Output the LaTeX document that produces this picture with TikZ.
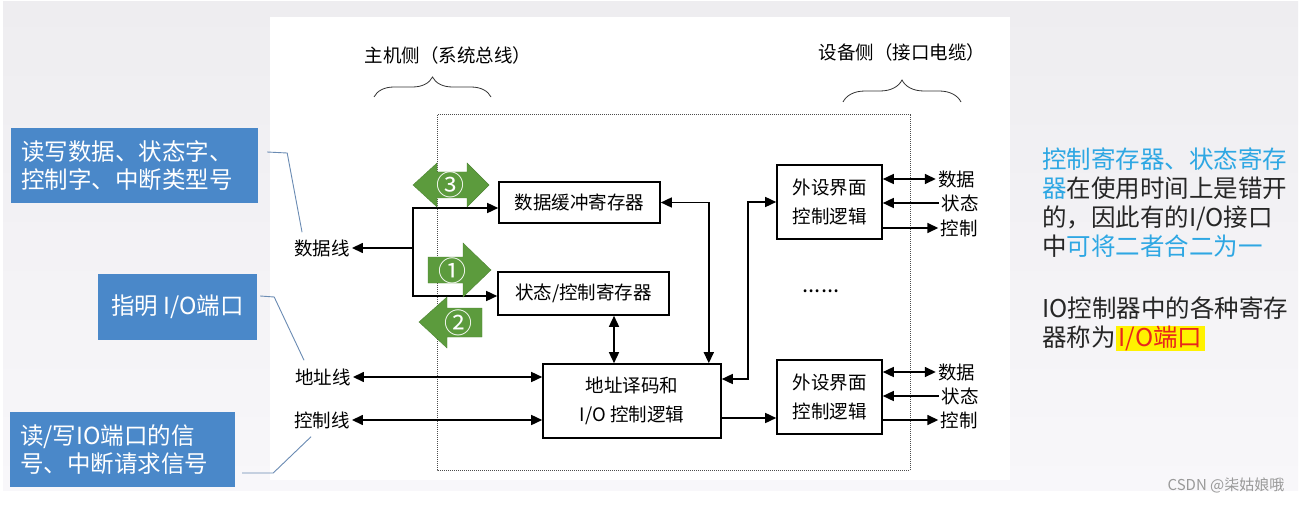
\documentclass[tikz,border=0pt]{standalone}
\usepackage{fontspec}
\setmainfont{Noto Sans CJK SC}
\usetikzlibrary{arrows.meta,decorations.pathreplacing}

\definecolor{slidetop}{HTML}{EEEDF0}
\definecolor{slidebot}{HTML}{F8F7FA}
\definecolor{noteblue}{HTML}{4A88C9}
\definecolor{linkblue}{HTML}{6A8BB3}
\definecolor{flowgreen}{HTML}{5C9B3D}
\definecolor{tipblue}{HTML}{2EA7E3}
\definecolor{markred}{HTML}{E8261C}
\definecolor{markyellow}{HTML}{FFF200}

\tikzstyle{reg} = [draw, line width=1.6pt, inner sep=0pt, align=center, font=\fontsize{18.5}{28.5}\selectfont]
\tikzstyle{sig} = [inner sep=2pt, font=\fontsize{18.5}{20}\selectfont]
\tikzstyle{note} = [fill=noteblue, text=white, inner sep=0pt, align=left, font=\fontsize{23.5}{27.5}\selectfont]
\tikzstyle{link} = [draw=linkblue, line width=0.9pt]
\tikzstyle{bus} = [line width=1.5pt, >={Triangle[length=11pt,width=10pt]}]
\tikzstyle{flow} = [fill=flowgreen, draw=flowgreen!85!black, line width=0.4pt]
\tikzstyle{num} = [text=white, inner sep=0pt, font=\fontsize{28}{28}\selectfont]

\begin{document}
\begin{tikzpicture}[x=1pt, y=-1pt]
\useasboundingbox (0,0) rectangle (1311,505);
\fill[white] (0,0) rectangle (1311,505);
\shade[top color=slidetop, bottom color=slidebot] (3,2) rectangle (1298,490);
\fill[white] (270,17) rectangle (1010,480);

% interface frame and the two sides
\draw[densely dotted, line width=1pt, black!70] (437,115) rectangle (910,470);
\draw[decorate, decoration={brace, amplitude=20pt}, line width=0.8pt, black!80] (374,97) -- (491,97);
\draw[decorate, decoration={brace, amplitude=22pt}, line width=0.8pt, black!80] (843,102) -- (961,102);
\node[sig] (host) at (448,55) {主机侧（系统总线）};
\node[sig] (device) at (902,52) {设备侧（接口电缆）};

\node[reg, minimum width=161pt, minimum height=41pt] (buf) at (579.5,202.5) {数据缓冲寄存器};
\node[reg, minimum width=171pt, minimum height=43pt] (stat) at (583.5,293.5) {状态/控制寄存器};
\node[reg, minimum width=178pt, minimum height=74pt] (dec) at (632,401) {地址译码和\\I/O 控制逻辑};
\node[reg, minimum width=105pt, minimum height=74pt] (dev1) at (829.5,202) {外设界面\\控制逻辑};
\node[reg, minimum width=105pt, minimum height=74pt] (dev2) at (829.5,397) {外设界面\\控制逻辑};
\node[sig, font=\fontsize{22}{22}\selectfont] (more) at (821,291) {......};

\node[sig] (datal) at (322,248) {数据线};
\node[sig] (addrl) at (323,377) {地址线};
\node[sig] (ctrll) at (322,420) {控制线};

\node[sig] (s1data) at (956.5,179) {数据};
\node[sig] (s1stat) at (960,203) {状态};
\node[sig] (s1ctrl) at (959,228) {控制};
\node[sig] (s2data) at (956.5,372) {数据};
\node[sig] (s2stat) at (960,396) {状态};
\node[sig] (s2ctrl) at (959,420) {控制};

\coordinate (split) at (413,248);
\draw[bus,->] (split) -- (datal.east);
\draw[bus,->] (split) |- ([yshift=-5.5pt]buf.west);
\draw[bus,->] (split) |- ([yshift=-2.5pt]stat.west);
\draw[bus,<->] (addrl.east) -- (addrl.east -| dec.west);
\draw[bus,<->] (ctrll.east) -- (ctrll.east -| dec.west);
\coordinate (sd) at ([xshift=30.5pt]stat.south);
\draw[bus,<->] (sd) -- (sd |- dec.north);
\draw[bus,<->] (buf.east) -| ([xshift=-13pt]dec.north east);
\coordinate (d1) at ([yshift=22pt]dec.east);
\draw[bus,<->] (d1) -| ([xshift=-28pt]dev1.west) -- (dev1.west);
\coordinate (d2) at ([yshift=-17pt]dec.east);
\draw[bus,->] (d2) -- (d2 -| dev2.west);

\draw[bus,<->] (dev1.east |- s1data) -- (s1data.west);
\draw[bus,<-] (dev1.east |- s1stat) -- (s1stat.west);
\draw[bus,->] (dev1.east |- s1ctrl) -- (s1ctrl.west);
\draw[bus,<->] (dev2.east |- s2data) -- (s2data.west);
\draw[bus,<-] (dev2.east |- s2stat) -- (s2stat.west);
\draw[bus,->] (dev2.east |- s2ctrl) -- (s2ctrl.west);

% steps 1 2 3
\filldraw[flow] (413,185) -- (437,163) -- (437,172) -- (467,172) -- (467,163) -- (489,185)
  -- (467,207) -- (467,198) -- (437,198) -- (437,207) -- cycle;
\filldraw[flow] (428,257) -- (463,257) -- (463,243) -- (491,270) -- (463,297) -- (463,283) -- (428,283) -- cycle;
\filldraw[flow] (419,322) -- (447,297) -- (447,308) -- (482,308) -- (482,337) -- (447,337) -- (447,348) -- cycle;
\node[num] (n3) at (450,185) {③};
\node[num] (n1) at (452,271) {①};
\node[num] (n2) at (458,323) {②};

% notes on the left
\node[note, minimum width=247pt, minimum height=75pt, text width=227pt] (note1) at (134.5,165.5)
  {读写数据、状态字、\\控制字、中断类型号};
\node[note, minimum width=159pt, minimum height=66pt, align=center] (note2) at (177.5,307) {指明 I/O端口};
\node[note, minimum width=225pt, minimum height=75pt, text width=205pt] (note3) at (122.5,449.5)
  {读/写IO端口的信\\号、中断请求信号};
\draw[link] ([xshift=9pt,yshift=13.5pt]note1.east) -- ++(20,1) -- ([xshift=10pt,yshift=5pt]datal.north west);
\draw[link] ([xshift=3pt,yshift=11pt]note2.east) -- ++(14,1) -- ([xshift=11pt,yshift=6pt]addrl.north west);
\draw[link] ([xshift=7pt,yshift=-23.5pt]note3.east) -- ++(31,0) -- ([xshift=19pt,yshift=-6pt]ctrll.south west);

% remarks on the right
\node[anchor=north west, inner sep=0pt, align=left, text=black!85, font=\fontsize{24.5}{29}\selectfont] (remark) at (1042,148)
  {{\color{tipblue}控制寄存器、状态寄存}\\
   {\color{tipblue}器}在使用时间上是错开\\
   的，因此有的I/O接口\\
   中{\color{tipblue}可将二者合二为一}\\[33pt]
   IO控制器中的各种寄存\\
   器称为{\setlength{\fboxsep}{0pt}\colorbox{markyellow}{\hspace{3pt}\color{markred}I/O端口\hspace{3pt}}}};

\node[text=black!40, inner sep=0pt, font=\fontsize{15}{15}\selectfont] (mark) at (1226,485) {CSDN @柒姑娘哦};
\end{tikzpicture}
\end{document}
